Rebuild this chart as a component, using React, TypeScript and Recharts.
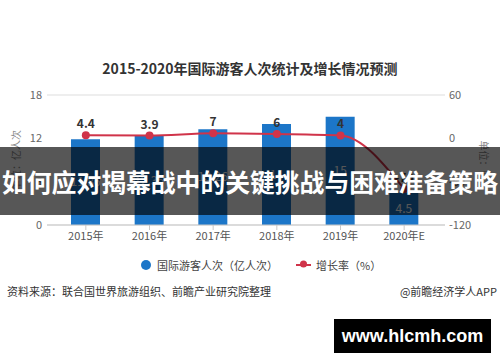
import {
  Bar,
  CartesianGrid,
  ComposedChart,
  LabelList,
  Line,
  XAxis,
  YAxis,
} from "recharts";

const years = ["2015年", "2016年", "2017年", "2018年", "2019年", "2020年E"];
const visitors = [11.86, 12.35, 13.26, 14, 15, 4.5];
const growth = [4.4, 3.9, 7, 6, 4, -70];
const leftTicks = [0, 6, 12, 18];
const rightTicks = [-120, -60, 0, 60];

const BLUE = "#1c76c8";
const RED = "#d0344a";
const CJK = '"Noto Sans CJK SC", "Noto Sans", sans-serif';

export default function App() {
  const data = years.map((year, i) => ({
    year,
    visitors: visitors[i],
    growth: growth[i],
  }));

  return (
    <div
      style={{
        position: "fixed",
        top: 0,
        left: 0,
        width: 500,
        height: 362,
        background: "#fff",
        fontFamily: CJK,
        overflow: "hidden",
      }}
    >
      <div
        style={{
          position: "absolute",
          top: 58,
          width: 500,
          textAlign: "center",
          fontSize: 14,
          fontWeight: 700,
          color: "#333",
          paddingRight: 4,
        }}
      >
        2015-2020年国际游客人次统计及增长情况预测
      </div>

      <ComposedChart
        width={500}
        height={362}
        data={data}
        margin={{ top: 95, right: 10, bottom: 107, left: 7 }}
        style={{ position: "absolute", top: 0, left: 0 }}
      >
        <CartesianGrid vertical={false} stroke="#dddddd" />
        <XAxis
          dataKey="year"
          height={30}
          padding={{ left: 7, right: 9 }}
          axisLine={{ stroke: "#c8c8c8" }}
          tickLine={{ stroke: "#c8c8c8" }}
          tickSize={5}
          tick={{ fontSize: 11, fill: "#555", fontFamily: CJK }}
        />
        <YAxis
          yAxisId="left"
          width={40}
          domain={[0, 18]}
          ticks={leftTicks}
          axisLine={false}
          tickLine={false}
          tickSize={0}
          tickMargin={5}
          tick={{ fontSize: 11, fill: "#666", fontFamily: CJK }}
        />
        <YAxis
          yAxisId="right"
          orientation="right"
          width={45}
          domain={[-120, 60]}
          ticks={rightTicks}
          axisLine={false}
          tickLine={false}
          tickSize={0}
          tickMargin={4}
          tick={{ fontSize: 11, fill: "#666", fontFamily: CJK }}
        />
        <Bar
          yAxisId="left"
          dataKey="visitors"
          fill={BLUE}
          barSize={29}
          isAnimationActive={false}
        >
          <LabelList
            dataKey="visitors"
            position="center"
            fill="#fff"
            fontSize={12}
            fontFamily={CJK}
          />
        </Bar>
        <Line
          yAxisId="right"
          dataKey="growth"
          type="monotone"
          stroke={RED}
          strokeWidth={2}
          dot={{ r: 4, fill: RED, stroke: RED, strokeWidth: 0 }}
          isAnimationActive={false}
        >
          <LabelList
            dataKey="growth"
            position="top"
            offset={7}
            fill="#333"
            fontSize={12}
            fontWeight={700}
            fontFamily={CJK}
          />
        </Line>
      </ComposedChart>

      <div
        style={{
          position: "absolute",
          left: 9,
          top: 160,
          transform: "translate(-50%, -50%) rotate(-90deg)",
          transformOrigin: "center",
          fontSize: 10,
          color: "#888",
          whiteSpace: "nowrap",
          marginLeft: 6,
        }}
      >
        单位：亿人次
      </div>
      <div
        style={{
          position: "absolute",
          left: 484,
          top: 160,
          transform: "translate(-50%, -50%) rotate(90deg)",
          fontSize: 10,
          color: "#888",
          whiteSpace: "nowrap",
        }}
      >
        单位：%
      </div>

      {/* legend */}
      <div
        style={{
          position: "absolute",
          top: 257,
          left: 141,
          display: "flex",
          alignItems: "center",
          fontSize: 11,
          color: "#444",
          whiteSpace: "nowrap",
        }}
      >
        <span
          style={{
            width: 10,
            height: 10,
            borderRadius: 5,
            background: BLUE,
            marginRight: 6,
          }}
        />
        <span>国际游客人次（亿人次）</span>
        <span
          style={{
            position: "relative",
            width: 15,
            height: 2,
            background: RED,
            marginLeft: 18,
            marginRight: 5,
          }}
        >
          <span
            style={{
              position: "absolute",
              left: 4,
              top: -3,
              width: 7,
              height: 7,
              borderRadius: 4,
              background: RED,
              transform: "translateY(-0.5px)",
            }}
          />
        </span>
        <span>增长率（%）</span>
      </div>

      <div
        style={{
          position: "absolute",
          top: 283,
          left: 7,
          fontSize: 11,
          color: "#333",
          whiteSpace: "nowrap",
        }}
      >
        资料来源：联合国世界旅游组织、前瞻产业研究院整理
      </div>
      <div
        style={{
          position: "absolute",
          top: 283,
          right: 3,
          fontSize: 11,
          color: "#333",
          whiteSpace: "nowrap",
        }}
      >
        @前瞻经济学人APP
      </div>

      {/* overlay banner */}
      <div
        style={{
          position: "absolute",
          top: 147,
          left: 0,
          width: 500,
          height: 68,
          background: "rgba(0,0,0,0.66)",
          color: "#fff",
          fontSize: 24.8,
          fontWeight: 700,
          lineHeight: "68px",
          textAlign: "center",
          whiteSpace: "nowrap",
        }}
      >
        如何应对揭幕战中的关键挑战与困难准备策略
      </div>

      <div
        style={{
          position: "absolute",
          top: 319,
          left: 334,
          width: 157,
          height: 34,
          background: "#000",
          color: "#fff",
          fontFamily: '"Liberation Sans", Arial, sans-serif',
          fontWeight: 700,
          fontSize: 18,
          lineHeight: "34px",
          textAlign: "center",
        }}
      >
        www.hlcmh.com
      </div>
    </div>
  );
}
